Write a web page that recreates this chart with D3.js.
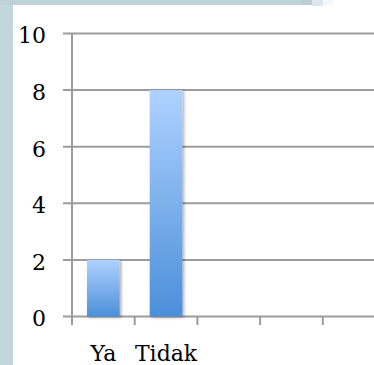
<!DOCTYPE html>
<html>
<head>
<meta charset="utf-8">
<script src="https://cdn.jsdelivr.net/npm/d3@7"></script>
<style>
  html, body { margin: 0; padding: 0; background: #ffffff; }
  svg { display: block; }
  text { font-family: "DejaVu Serif", "Liberation Serif", serif; fill: #000; }
</style>
</head>
<body>
<script>
// Category slots along the x axis (only the first two are used)
const categories = ["Ya", "Tidak", "", "", ""];
const values = [2, 8];
const yTicks = [0, 2, 4, 6, 8, 10];

const W = 374, H = 365;
const svg = d3.select("body").append("svg").attr("width", W).attr("height", H);

// Slide frame strips
svg.append("rect").attr("x", 0).attr("y", 0).attr("width", 13).attr("height", H).attr("fill", "#c3d6dc");
svg.append("rect").attr("x", 0).attr("y", 0).attr("width", 302).attr("height", 5).attr("fill", "#bfd2d8");
svg.append("rect").attr("x", 302).attr("y", 0).attr("width", 10).attr("height", 5).attr("fill", "#bccdd4");
svg.append("rect").attr("x", 312).attr("y", 0).attr("width", 11).attr("height", 6).attr("fill", "#dce7ee");
svg.append("rect").attr("x", 323).attr("y", 0).attr("width", 10).attr("height", 5).attr("fill", "#f4f7f9");

const defs = svg.append("defs");
const grad = defs.append("linearGradient").attr("id", "barGrad")
  .attr("x1", 0).attr("y1", 0).attr("x2", 0).attr("y2", 1);
grad.append("stop").attr("offset", "0%").attr("stop-color", "#afd2ff");
grad.append("stop").attr("offset", "100%").attr("stop-color", "#4b8fd9");

const shadow = defs.append("filter").attr("id", "barShadow")
  .attr("x", "-30%").attr("y", "-10%").attr("width", "160%").attr("height", "130%");
shadow.append("feDropShadow").attr("dx", 1.5).attr("dy", 1).attr("stdDeviation", 1.8)
  .attr("flood-color", "#000").attr("flood-opacity", 0.35);

const left = 72, yTop = 33.5, yBottom = 316.5;
const step = 62.7;

const x = d3.scaleBand()
  .domain(d3.range(categories.length))
  .range([left, left + step * categories.length])
  .paddingInner(0.48)
  .paddingOuter(0.24);

const y = d3.scaleLinear().domain([0, 10]).range([yBottom, yTop]);

const gridColor = "#9c9c9c";

// Horizontal gridlines with left tick stubs
svg.append("g").selectAll("line").data(yTicks).join("line")
  .attr("x1", left - 9).attr("x2", W)
  .attr("y1", d => y(d)).attr("y2", d => y(d))
  .attr("stroke", gridColor).attr("stroke-width", 2);

// Y axis line
svg.append("line")
  .attr("x1", left).attr("x2", left)
  .attr("y1", yTop).attr("y2", yBottom + 8.5)
  .attr("stroke", gridColor).attr("stroke-width", 2);

// X axis ticks at category boundaries
const boundaries = d3.range(categories.length + 1).map(i => left + i * x.step());
svg.append("g").selectAll("line").data(boundaries).join("line")
  .attr("x1", d => d).attr("x2", d => d)
  .attr("y1", yBottom).attr("y2", yBottom + 8.5)
  .attr("stroke", gridColor).attr("stroke-width", 2);

// Y tick labels
svg.append("g").selectAll("text").data(yTicks).join("text")
  .attr("x", 46).attr("y", d => y(d)).attr("dy", "0.45em")
  .attr("text-anchor", "end").attr("font-size", 22)
  .text(d => d);

// Bars
svg.append("g").selectAll("rect").data(values).join("rect")
  .attr("x", (d, i) => x(i))
  .attr("width", x.bandwidth())
  .attr("y", d => y(d))
  .attr("height", d => y(0) - y(d))
  .attr("fill", "url(#barGrad)")
  .attr("filter", "url(#barShadow)");

// Category labels
svg.append("g").selectAll("text").data(categories).join("text")
  .attr("x", (d, i) => x(i) + x.bandwidth() / 2)
  .attr("y", yBottom + 44.5)
  .attr("text-anchor", "middle").attr("font-size", 22)
  .text(d => d);
</script>
</body>
</html>
